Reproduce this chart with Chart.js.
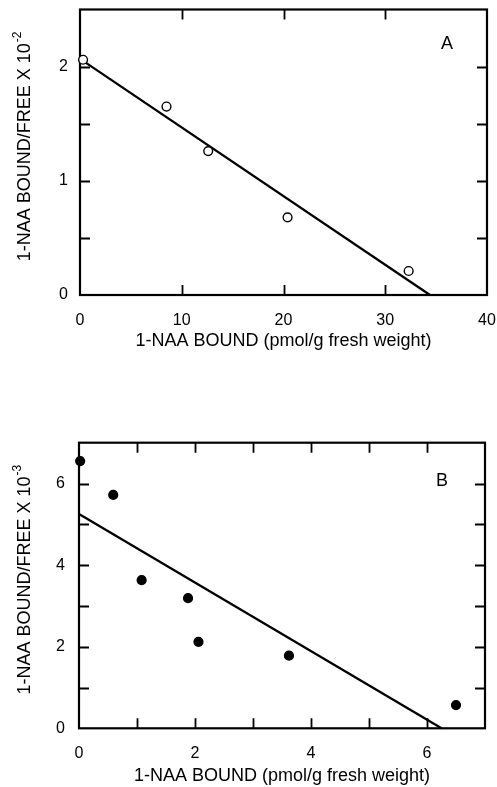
<!DOCTYPE html>
<html><head><meta charset="utf-8">
<script src="https://cdn.jsdelivr.net/npm/chart.js@4.4.1/dist/chart.umd.min.js"></script>
<style>
html,body{margin:0;padding:0;background:#fff;width:497px;height:787px;overflow:hidden}
canvas{position:absolute;left:0}
#ca{top:0}
#cb{top:420px}
</style></head><body>
<canvas id="ca" width="497" height="360"></canvas>
<canvas id="cb" width="497" height="367"></canvas>
<script>
// ---- Panel A data (open circles) ----
const boundA = [0.3, 8.5, 12.6, 20.4, 32.3];
const ratioA = [2.06, 1.65, 1.26, 0.68, 0.21];
const fitAx = [0.3, 34.4];
const fitAy = [2.05, 0];
const xTicksA = [0, 10, 20, 30, 40];
const yTicksA = [0, 1, 2];
// ---- Panel B data (filled circles) ----
const boundB = [0.02, 0.59, 1.08, 1.88, 2.06, 3.62, 6.5];
const ratioB = [6.55, 5.72, 3.63, 3.19, 2.12, 1.78, 0.57];
const fitBx = [0, 6.25];
const fitBy = [5.25, 0];
const xTicksB = [0, 2, 4, 6];
const yTicksB = [0, 2, 4, 6];
// ---- texts ----
const xTitle = '1-NAA BOUND (pmol/g fresh weight)';
const yTitle = '1-NAA BOUND/FREE X 10';
const expA = '-2';
const expB = '-3';
const labelA = 'A';
const labelB = 'B';

const FAM = '"Liberation Sans", Arial, Helvetica, sans-serif';

const framePlugin = {
  id: 'frame',
  beforeDatasetsDraw(chart) {
    const ctx = chart.ctx, a = chart.chartArea;
    const xs = chart.scales.x, ys = chart.scales.y;
    ctx.save();
    ctx.strokeStyle = '#000';
    ctx.lineWidth = 1.8;
    ctx.beginPath();
    xs.ticks.forEach(t => {
      if (t.value <= xs.min || t.value >= xs.max) return;
      const p = Math.round(xs.getPixelForValue(t.value)) + 0.5;
      ctx.moveTo(p, a.bottom); ctx.lineTo(p, a.bottom - 10);
      ctx.moveTo(p, a.top); ctx.lineTo(p, a.top + 10);
    });
    ys.ticks.forEach(t => {
      if (t.value <= ys.min || t.value >= ys.max) return;
      const p = Math.round(ys.getPixelForValue(t.value)) + 0.5;
      ctx.moveTo(a.left, p); ctx.lineTo(a.left + 10, p);
      ctx.moveTo(a.right, p); ctx.lineTo(a.right - 10, p);
    });
    ctx.stroke();
    ctx.lineWidth = 2.2;
    ctx.strokeRect(a.left, a.top, a.right - a.left, a.bottom - a.top);
    ctx.restore();
  },
  afterDraw(chart) {
    const o = chart.options.plugins.frame;
    const ctx = chart.ctx, a = chart.chartArea;
    ctx.save();
    ctx.fillStyle = '#000';
    // x title
    ctx.font = '18px ' + FAM;
    ctx.textAlign = 'center';
    ctx.textBaseline = 'middle';
    ctx.fillText(o.xTitle, (a.left + a.right) / 2, o.xTitleY);
    // y title with superscript
    ctx.save();
    ctx.translate(o.yTitleX, (a.top + a.bottom) / 2);
    ctx.rotate(-Math.PI / 2);
    ctx.font = '18px ' + FAM;
    const w = ctx.measureText(o.yTitle).width;
    ctx.fillText(o.yTitle, 0, 0);
    ctx.font = '12px ' + FAM;
    ctx.textAlign = 'left';
    ctx.fillText(o.exp, w / 2 + 1, -7);
    ctx.restore();
    // panel letter
    ctx.font = '18px ' + FAM;
    ctx.textAlign = 'center';
    ctx.fillText(o.letter, o.letterX, o.letterY);
    ctx.restore();
  }
};

function makeChart(id, c) {
  return new Chart(document.getElementById(id), {
    type: 'scatter',
    data: {
      datasets: [
        {
          data: c.px.map((x, i) => ({ x: x, y: c.py[i] })),
          pointRadius: 4.4, pointBorderWidth: 1.4,
          borderColor: '#000', backgroundColor: c.fill,
          pointBackgroundColor: c.fill, pointBorderColor: '#000',
          clip: false, order: 0
        },
        {
          type: 'line',
          data: c.fx.map((x, i) => ({ x: x, y: c.fy[i] })),
          borderColor: '#000', borderWidth: 2.3, pointRadius: 0,
          fill: false, clip: false, order: 1
        }
      ]
    },
    options: {
      responsive: false, animation: false, devicePixelRatio: 1,
      layout: { padding: { left: 0, top: c.top, right: c.right, bottom: 0 } },
      plugins: {
        legend: { display: false }, tooltip: { enabled: false },
        frame: c.frame
      },
      scales: {
        x: {
          type: 'linear', min: 0, max: c.xMax,
          grid: { display: false, drawTicks: false }, border: { display: false },
          ticks: {
            stepSize: c.xStep, autoSkip: false, maxRotation: 0, padding: 16,
            color: '#000', font: { family: FAM, size: 16 },
            callback: v => c.xLab.includes(v) ? String(v) : ''
          },
          afterFit: s => { s.height = c.xH; s.paddingLeft = 0; s.paddingRight = 0; }
        },
        y: {
          type: 'linear', min: 0, max: c.yMax,
          grid: { display: false, drawTicks: false }, border: { display: false },
          ticks: {
            stepSize: c.yStep, autoSkip: false, padding: c.yPad,
            color: '#000', font: { family: FAM, size: 16 },
            callback: v => c.yLab.includes(v) ? String(v) : ''
          },
          afterFit: s => { s.width = c.yW; s.paddingTop = 0; s.paddingBottom = 0; }
        }
      }
    },
    plugins: [framePlugin]
  });
}

makeChart('ca', {
  px: boundA, py: ratioA, fx: fitAx, fy: fitAy, fill: '#fff',
  xMax: 40, xStep: 10, xLab: xTicksA, yMax: 2.5, yStep: 0.5, yLab: yTicksA,
  top: 9.5, right: 10, xH: 65, yW: 80, yPad: 12,
  frame: { xTitle: xTitle, xTitleY: 341, yTitle: yTitle, exp: expA, yTitleX: 25, letter: labelA, letterX: 447, letterY: 44 }
});
makeChart('cb', {
  px: boundB, py: ratioB, fx: fitBx, fy: fitBy, fill: '#000',
  xMax: 7, xStep: 1, xLab: xTicksB, yMax: 7, yStep: 1, yLab: yTicksB,
  top: 22.7, right: 12, xH: 58.7, yW: 79, yPad: 14,
  frame: { xTitle: xTitle, xTitleY: 356, yTitle: yTitle, exp: expB, yTitleX: 25, letter: labelB, letterX: 442, letterY: 61 }
});
</script>
</body></html>
